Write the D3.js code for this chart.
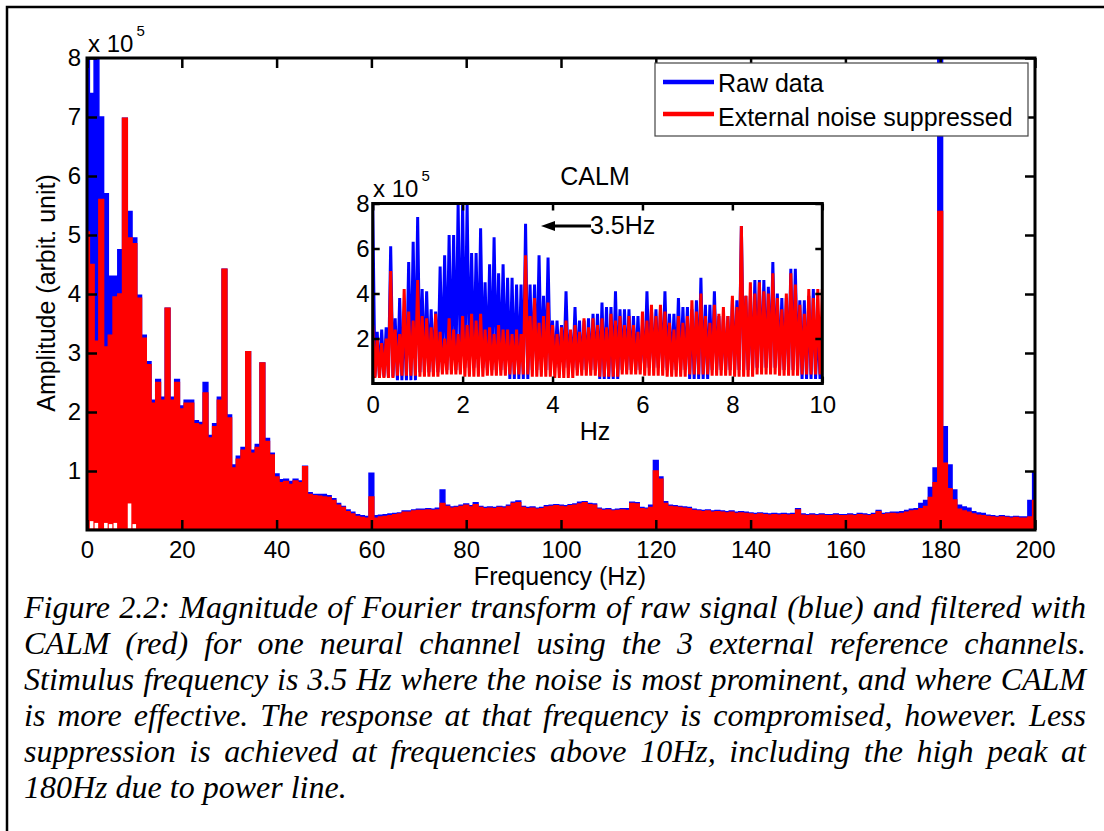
<!DOCTYPE html>
<html>
<head>
<meta charset="utf-8">
<script src="https://cdn.jsdelivr.net/npm/d3@7"></script>
<style>
  body { margin: 0; background: #fff; }
  #wrap { position: relative; width: 1104px; height: 831px; overflow: hidden; background: #fff; }
  #wrap svg { position: absolute; left: 0; top: 0; }
</style>
</head>
<body>
<div id="wrap"></div>
<script>
// spectrum, units of 1e5, one value per 1 Hz (0..200 Hz)
const rawMain = [
  8.0, 7.4, 8.0, 7.0, 5.7, 4.3, 4.3, 4.75, 6.98, 5.4,
  4.95, 3.98, 3.3, 2.85, 2.2, 2.55, 2.25, 3.76, 2.25, 2.55,
  2.1, 2.2, 2.2, 1.85, 1.82, 2.5, 1.6, 1.8, 2.25, 4.42,
  1.95, 1.1, 1.25, 1.4, 3.02, 1.35, 1.45, 2.83, 1.55, 1.3,
  0.95, 0.85, 0.86, 0.82, 0.86, 0.83, 1.08, 0.63, 0.6, 0.6,
  0.6, 0.58, 0.53, 0.45, 0.4, 0.34, 0.3, 0.26, 0.24, 0.23,
  0.96, 0.24, 0.25, 0.26, 0.27, 0.28, 0.29, 0.32, 0.32, 0.34,
  0.35, 0.35, 0.36, 0.35, 0.37, 0.68, 0.42, 0.39, 0.4, 0.42,
  0.44, 0.41, 0.46, 0.4, 0.38, 0.39, 0.38, 0.4, 0.39, 0.42,
  0.47, 0.49, 0.4, 0.38, 0.39, 0.37, 0.38, 0.41, 0.42, 0.43,
  0.42, 0.41, 0.43, 0.44, 0.47, 0.48, 0.45, 0.44, 0.37, 0.35,
  0.36, 0.34, 0.35, 0.36, 0.36, 0.47, 0.46, 0.38, 0.37, 0.42,
  1.18, 0.9, 0.48, 0.42, 0.41, 0.4, 0.39, 0.38, 0.35, 0.34,
  0.33, 0.34, 0.32, 0.33, 0.32, 0.31, 0.32, 0.3, 0.31, 0.3,
  0.29, 0.28, 0.29, 0.28, 0.27, 0.28, 0.27, 0.28, 0.27, 0.28,
  0.36, 0.27, 0.26, 0.27, 0.26, 0.27, 0.26, 0.26, 0.27, 0.26,
  0.26, 0.27, 0.26, 0.28, 0.27, 0.26, 0.28, 0.33, 0.28, 0.29,
  0.3, 0.3, 0.31, 0.33, 0.35, 0.36, 0.45, 0.5, 0.72, 1.05,
  8.0, 1.75, 1.1, 0.68, 0.42, 0.39, 0.37, 0.31, 0.29, 0.28,
  0.25, 0.24, 0.23, 0.24, 0.23, 0.22, 0.23, 0.22, 0.22, 0.5,
  0.98
];
const calmMain = [
  5.05, 4.5, 3.2, 5.6, 3.1, 3.3, 3.95, 4.0, 6.98, 4.95,
  4.85, 3.93, 3.25, 2.8, 2.15, 2.5, 2.2, 3.76, 2.2, 2.5,
  2.05, 2.15, 2.15, 1.8, 1.78, 2.32, 1.56, 1.75, 2.2, 4.42,
  1.9, 1.05, 1.2, 1.35, 3.02, 1.3, 1.4, 2.83, 1.5, 1.27,
  0.9, 0.8, 0.82, 0.77, 0.83, 0.8, 1.07, 0.6, 0.58, 0.57,
  0.56, 0.55, 0.5, 0.42, 0.38, 0.31, 0.27, 0.23, 0.21, 0.2,
  0.56, 0.2, 0.22, 0.23, 0.24, 0.26, 0.27, 0.3, 0.3, 0.32,
  0.33, 0.33, 0.34, 0.33, 0.34, 0.45, 0.4, 0.37, 0.38, 0.4,
  0.42, 0.39, 0.43, 0.38, 0.36, 0.37, 0.36, 0.38, 0.37, 0.4,
  0.45, 0.46, 0.38, 0.36, 0.37, 0.35, 0.36, 0.39, 0.4, 0.41,
  0.4, 0.39, 0.41, 0.42, 0.44, 0.46, 0.43, 0.42, 0.35, 0.33,
  0.34, 0.32, 0.33, 0.34, 0.33, 0.45, 0.44, 0.36, 0.35, 0.38,
  1.0, 0.86, 0.45, 0.4, 0.39, 0.38, 0.37, 0.36, 0.33, 0.32,
  0.31, 0.32, 0.3, 0.31, 0.3, 0.29, 0.3, 0.28, 0.29, 0.28,
  0.27, 0.26, 0.27, 0.26, 0.25, 0.26, 0.25, 0.26, 0.25, 0.26,
  0.34, 0.25, 0.24, 0.25, 0.24, 0.25, 0.24, 0.24, 0.25, 0.24,
  0.24, 0.25, 0.24, 0.26, 0.25, 0.24, 0.26, 0.31, 0.26, 0.27,
  0.28, 0.27, 0.28, 0.3, 0.32, 0.33, 0.36, 0.4, 0.55, 0.8,
  5.4, 1.13, 0.7, 0.51, 0.35, 0.32, 0.3, 0.27, 0.25, 0.24,
  0.23, 0.22, 0.21, 0.22, 0.21, 0.2, 0.21, 0.2, 0.2, 0.22,
  0.5
];
// white gaps at the foot of the 0..10 Hz part, per 1 Hz
const mainFloor = [0.0, 0.15, 0.12, 0.0, 0.12, 0.1, 0.12, 0.0, 0.0, 0.45, 0.1];

// inset (CALM, 0..10 Hz): peak per 0.1 Hz, floor per 0.5 Hz
const rawInset = [
  8.0, 2.3, 2.4, 2.5, 6.1, 2.9, 3.8, 3.2, 5.4, 6.3,
  7.4, 4.2, 4.1, 3.3, 3.2, 5.2, 5.7, 6.6, 6.6, 8.0,
  8.0, 8.0, 5.8, 5.8, 6.9, 4.5, 5.3, 6.5, 4.9, 5.3,
  4.7, 4.7, 4.4, 4.4, 7.1, 4.4, 4.4, 5.7, 3.9, 5.6,
  2.8, 2.8, 2.6, 4.1, 2.3, 3.4, 2.8, 2.8, 2.9, 3.1,
  3.1, 3.6, 3.4, 3.4, 4.1, 3.3, 3.3, 3.3, 3.0, 3.0,
  2.6, 4.1, 3.3, 3.3, 3.3, 4.1, 3.1, 3.1, 3.8, 3.4,
  3.4, 3.3, 3.7, 4.7, 3.5, 3.5, 4.1, 3.0, 3.0, 3.0,
  3.7, 3.7, 7.0, 3.9, 3.9, 4.6, 4.6, 4.6, 4.3, 5.4,
  4.0, 3.8, 3.8, 5.1, 5.1, 3.7, 3.7, 3.9, 4.2, 2.8
];
const calmInset = [
  2.6, 2.0, 1.8, 2.0, 5.0, 2.4, 2.2, 4.2, 3.2, 2.8,
  4.6, 3.0, 2.9, 2.5, 3.1, 2.3, 2.0, 2.9, 2.4, 2.2,
  3.0, 2.6, 3.1, 2.8, 3.1, 2.4, 2.5, 2.2, 2.6, 2.4,
  2.4, 2.2, 2.4, 2.2, 5.7, 3.0, 3.8, 2.7, 3.0, 3.6,
  2.6, 2.2, 2.5, 2.8, 2.4, 2.6, 2.3, 2.9, 2.5, 2.9,
  2.6, 2.9, 2.5, 3.1, 2.8, 3.0, 2.6, 3.0, 2.6, 2.3,
  3.2, 2.8, 3.5, 3.0, 3.5, 3.2, 2.7, 2.4, 3.0, 2.7,
  3.0, 3.7, 3.2, 4.0, 3.0, 2.7, 3.5, 3.1, 3.4, 3.0,
  3.9, 3.4, 7.0, 3.9, 4.5, 4.0, 4.5, 4.1, 4.0, 4.9,
  3.8, 3.3, 4.0, 4.9, 4.4, 3.5, 3.1, 4.2, 3.8, 4.2
];
const rawInsetLow = [0.3, 0.15, 0.5, 0.6, 0.7, 0.6, 0.2, 0.6, 0.7, 0.6,
                     0.2, 0.6, 0.7, 0.6, 0.2, 0.6, 0.6, 0.7, 0.6, 0.2];
const calmInsetLow = [0.25, 0.35, 0.3, 0.4, 0.3, 0.35, 0.4, 0.3, 0.25, 0.35,
                      0.3, 0.4, 0.35, 0.3, 0.4, 0.35, 0.3, 0.4, 0.35, 0.4];

const mainXTicks = [0, 20, 40, 60, 80, 100, 120, 140, 160, 180, 200];
const mainYTicks = [1, 2, 3, 4, 5, 6, 7, 8];
const insetXTicks = [0, 2, 4, 6, 8, 10];
const insetYTicks = [2, 4, 6, 8];
const legendLabels = ["Raw data", "External noise suppressed"];
const captionLines = [
  "Figure 2.2: Magnitude of Fourier transform of raw signal (blue) and filtered with",
  "CALM (red) for one neural channel using the 3 external reference channels.",
  "Stimulus frequency is 3.5 Hz where the noise is most prominent, and where CALM",
  "is more effective. The response at that frequency is compromised, however. Less",
  "suppression is achieved at frequencies above 10Hz, including the high peak at",
  "180Hz due to power line."
];

const blue = "#0000ff";
const red = "#ff0000";
const sans = "'Liberation Sans', Arial, Helvetica, sans-serif";
const serif = "'Liberation Serif', 'Times New Roman', serif";
const insetStep = 0.1;

const wrap = d3.select("#wrap");
const svg = wrap.append("svg").attr("width", 1104).attr("height", 831);

// outer frame (only left and top edges are in the picture)
svg.append("path")
  .attr("d", "M7,900V7H1200")
  .attr("fill", "none").attr("stroke", "#000").attr("stroke-width", 2.5);

// ---------- main axes ----------
const x = d3.scaleLinear().domain([0, 200]).range([87, 1035]);
const y = d3.scaleLinear().domain([0, 8]).range([530, 58]);

svg.append("clipPath").attr("id", "mainClip")
  .append("rect").attr("x", 87).attr("y", 58).attr("width", 948).attr("height", 472);

const mainPlot = svg.append("g").attr("clip-path", "url(#mainClip)");
const mainArea = d3.area()
  .x((_d, i) => x(i))
  .y0(y(0))
  .y1((d) => y(d))
  .curve(d3.curveStep);

[[rawMain, blue], [calmMain, red]].forEach(([vals, col]) => {
  mainPlot.append("path")
    .attr("d", mainArea(vals))
    .attr("fill", col)
    .attr("stroke", col)
    .attr("stroke-width", 1.5);
});

// white gaps along the bottom of the 0..10 Hz part
mainFloor.forEach((v, i) => {
  if (v <= 0) return;
  mainPlot.append("rect")
    .attr("x", x(i - 0.4)).attr("width", x(0.75) - x(0))
    .attr("y", y(v)).attr("height", y(0) - y(v) - 1.5)
    .attr("fill", "#fff");
});

function styleAxis(g) {
  g.select(".domain").remove();
  g.selectAll(".tick line").attr("stroke", "#000").attr("stroke-width", 2.5);
  g.selectAll(".tick text").attr("fill", "#000");
  g.attr("font-family", sans);
}

svg.append("g").attr("transform", "translate(0,530)")
  .call(d3.axisBottom(x).tickValues(mainXTicks).tickSize(-10).tickPadding(11))
  .attr("font-size", 24).call(styleAxis);
svg.append("g").attr("transform", "translate(0,58)")
  .call(d3.axisTop(x).tickValues(mainXTicks).tickSize(-10).tickFormat(""))
  .call(styleAxis);
svg.append("g").attr("transform", "translate(87,0)")
  .call(d3.axisLeft(y).tickValues(mainYTicks).tickSize(-10).tickPadding(6))
  .attr("font-size", 24).call(styleAxis);
svg.append("g").attr("transform", "translate(1035,0)")
  .call(d3.axisRight(y).tickValues(mainYTicks).tickSize(-10).tickFormat(""))
  .call(styleAxis);

svg.append("rect")
  .attr("x", 87).attr("y", 58).attr("width", 948).attr("height", 472)
  .attr("fill", "none").attr("stroke", "#000").attr("stroke-width", 3);

// exponent label
const expMain = svg.append("text").attr("x", 88).attr("y", 52)
  .attr("font-family", sans).attr("font-size", 24).text("x 10");
expMain.append("tspan").attr("font-size", 15).attr("dx", 3).attr("dy", -16).text("5");

svg.append("text")
  .attr("transform", "translate(55,293) rotate(-90)")
  .attr("text-anchor", "middle")
  .attr("font-family", sans).attr("font-size", 25)
  .text("Amplitude (arbit. unit)");

svg.append("text")
  .attr("x", 560).attr("y", 585)
  .attr("text-anchor", "middle")
  .attr("font-family", sans).attr("font-size", 25)
  .text("Frequency (Hz)");

// ---------- legend ----------
const legend = svg.append("g");
legend.append("rect")
  .attr("x", 655).attr("y", 63).attr("width", 373).attr("height", 73)
  .attr("fill", "#fff").attr("stroke", "#444").attr("stroke-width", 1.2);
[[blue, 82, 92], [red, 114, 126]].forEach(([col, ly, ty], i) => {
  legend.append("line")
    .attr("x1", 663).attr("x2", 714).attr("y1", ly).attr("y2", ly)
    .attr("stroke", col).attr("stroke-width", 4.5);
  legend.append("text")
    .attr("x", 718).attr("y", ty)
    .attr("font-family", sans).attr("font-size", 25)
    .text(legendLabels[i]);
});

// ---------- inset ----------
const ix = d3.scaleLinear().domain([0, 10]).range([372.7, 822.3]);
const iy = d3.scaleLinear().domain([0, 8]).range([383.5, 203.5]);

svg.append("rect")
  .attr("x", 372.7).attr("y", 203.5).attr("width", 449.6).attr("height", 180)
  .attr("fill", "#fff");

svg.append("clipPath").attr("id", "insetClip")
  .append("rect").attr("x", 372.7).attr("y", 203.5).attr("width", 449.6).attr("height", 180);

function zigzag(top, low) {
  const pts = [];
  top.forEach((v, k) => {
    pts.push([k * insetStep, v]);
    pts.push([k * insetStep + insetStep / 2, low[Math.floor(k / 5)]]);
  });
  pts.push([10, top[top.length - 1]]);
  return pts;
}

const insetLine = d3.line().x((d) => ix(d[0])).y((d) => iy(d[1]));
const insetPlot = svg.append("g").attr("clip-path", "url(#insetClip)");
[[rawInset, rawInsetLow, blue], [calmInset, calmInsetLow, red]].forEach(([top, low, col]) => {
  insetPlot.append("path")
    .attr("d", insetLine(zigzag(top, low)))
    .attr("fill", "none")
    .attr("stroke", col)
    .attr("stroke-width", 3)
    .attr("stroke-linejoin", "bevel");
});

svg.append("g").attr("transform", "translate(0,383.5)")
  .call(d3.axisBottom(ix).tickValues(insetXTicks).tickSize(-7).tickPadding(12))
  .attr("font-size", 24).call(styleAxis);
svg.append("g").attr("transform", "translate(0,203.5)")
  .call(d3.axisTop(ix).tickValues(insetXTicks).tickSize(-7).tickFormat(""))
  .call(styleAxis);
svg.append("g").attr("transform", "translate(372.7,0)")
  .call(d3.axisLeft(iy).tickValues(insetYTicks).tickSize(-7).tickPadding(3))
  .attr("font-size", 24).call(styleAxis);
svg.append("g").attr("transform", "translate(822.3,0)")
  .call(d3.axisRight(iy).tickValues(insetYTicks).tickSize(-7).tickFormat(""))
  .call(styleAxis);

svg.append("rect")
  .attr("x", 372.7).attr("y", 203.5).attr("width", 449.6).attr("height", 180)
  .attr("fill", "none").attr("stroke", "#000").attr("stroke-width", 3);

const expInset = svg.append("text").attr("x", 373).attr("y", 197)
  .attr("font-family", sans).attr("font-size", 24).text("x 10");
expInset.append("tspan").attr("font-size", 15).attr("dx", 3).attr("dy", -16).text("5");

svg.append("text")
  .attr("x", 595).attr("y", 185).attr("text-anchor", "middle")
  .attr("font-family", sans).attr("font-size", 25).text("CALM");

svg.append("text")
  .attr("x", 595).attr("y", 440).attr("text-anchor", "middle")
  .attr("font-family", sans).attr("font-size", 25).text("Hz");

// 3.5 Hz annotation arrow
svg.append("line")
  .attr("x1", 552).attr("x2", 591).attr("y1", 226).attr("y2", 226)
  .attr("stroke", "#000").attr("stroke-width", 3);
svg.append("path")
  .attr("d", "M541,226L555,221L555,231Z")
  .attr("fill", "#000");
svg.append("text")
  .attr("x", 590).attr("y", 234)
  .attr("font-family", sans).attr("font-size", 25).text("3.5Hz");

// ---------- caption (justified by word spacing) ----------
const capLeft = 24;
const capWidth = 1062;
const baselines = [618, 654, 690, 726, 762, 798];
captionLines.forEach((line, i) => {
  const t = svg.append("text")
    .attr("x", capLeft).attr("y", baselines[i])
    .attr("font-family", serif).attr("font-style", "italic").attr("font-size", 32)
    .attr("fill", "#000")
    .text(line);
  if (i < captionLines.length - 1) {
    const natural = t.node().getComputedTextLength();
    const gaps = line.split(" ").length - 1;
    t.attr("word-spacing", (capWidth - natural) / gaps);
  }
});
</script>
</body>
</html>
